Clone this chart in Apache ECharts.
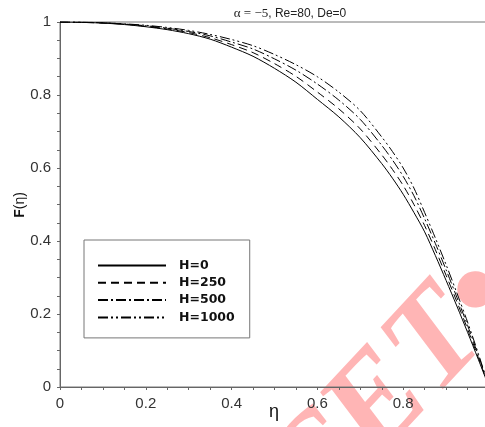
<!DOCTYPE html>
<html><head><meta charset="utf-8">
<script src="https://cdn.jsdelivr.net/npm/echarts@6/dist/echarts.min.js"></script>
<style>html,body{margin:0;padding:0;background:#fff}#c{width:485px;height:427px}</style>
</head><body><div id="c"></div>
<script>
const eta     = [0,0.05,0.1,0.15,0.2,0.25,0.3,0.35,0.4,0.45,0.5,0.55,0.6,0.65,0.7,0.75,0.775,0.8,0.825,0.85,0.875,0.9,0.925,0.95,0.975,1.0];
const F_H0    = [1.0,0.999,0.997,0.993,0.987,0.979,0.968,0.953,0.931,0.906,0.873,0.835,0.788,0.740,0.683,0.612,0.572,0.528,0.478,0.425,0.360,0.292,0.222,0.150,0.076,0];
const F_H250  = [1.0,0.999,0.997,0.994,0.988,0.981,0.971,0.957,0.938,0.916,0.886,0.851,0.808,0.762,0.707,0.636,0.596,0.552,0.500,0.442,0.376,0.306,0.234,0.159,0.081,0];
const F_H500  = [1.0,0.9993,0.9977,0.9944,0.9897,0.983,0.974,0.962,0.945,0.926,0.899,0.868,0.830,0.786,0.733,0.662,0.622,0.577,0.524,0.461,0.393,0.321,0.246,0.169,0.087,0];
const F_H1000 = [1.0,0.9995,0.998,0.995,0.991,0.985,0.977,0.966,0.952,0.935,0.911,0.883,0.850,0.808,0.757,0.685,0.645,0.600,0.545,0.478,0.408,0.335,0.258,0.178,0.092,0];
const seriesNames = ['H=0','H=250','H=500','H=1000'];
const xTicks = [0,0.2,0.4,0.6,0.8];
const yTicks = [0,0.2,0.4,0.6,0.8,1];

const chart = echarts.init(document.getElementById('c'), null, {renderer:'canvas'});
const pairs = arr => eta.map((e,i)=>[e,arr[i]]);
const dashes = ['solid',[8,5],[10,3,2,3],[10,3,2,3,2,3]];
const datas = [F_H0,F_H250,F_H500,F_H1000];

const axisCommon = {
  axisLine:{show:true,lineStyle:{color:'#666',width:1}},
  axisTick:{show:true,inside:false,length:3,lineStyle:{color:'#666'}},
  minorTick:{show:true,splitNumber:4,length:3,lineStyle:{color:'#666'}},
  splitLine:{show:false},
  axisLabel:{color:'#333',fontFamily:'Liberation Sans, Arial',fontSize:15}
};

chart.setOption({
  animation:false,
  backgroundColor:'#fff',
  grid:{left:60,top:22,right:-4,bottom:40,show:true,borderColor:'#777',borderWidth:1,backgroundColor:'transparent',containLabel:false,outerBoundsMode:'none'},
  xAxis:Object.assign({},axisCommon,{type:'value',min:0,max:1,interval:0.2,
    axisLabel:Object.assign({},axisCommon.axisLabel,{margin:9,showMaxLabel:false,
      formatter:v=>{const t=xTicks.find(k=>Math.abs(k-v)<1e-9);return t===undefined?'':String(t);}})}),
  yAxis:Object.assign({},axisCommon,{type:'value',min:0,max:1,interval:0.2,
    axisLabel:Object.assign({},axisCommon.axisLabel,{margin:9,
      formatter:v=>{const t=yTicks.find(k=>Math.abs(k-v)<1e-9);return t===undefined?'':String(t);}})}),
  legend:{
    orient:'vertical',left:84,top:240,
    data:seriesNames,
    itemWidth:68,itemHeight:14,itemGap:4.3,
    padding:[19,15,14,13],
    borderColor:'#777',borderWidth:1,
    itemStyle:{opacity:0,color:'transparent',borderWidth:0},
    textStyle:{fontFamily:'DejaVu Sans',fontWeight:'bold',fontSize:12.5,color:'#111',padding:[0,0,0,8]}
  },
  graphic:[
    {type:'text',z:-10,silent:true,x:393,y:392,rotation:47*Math.PI/180,
      style:{text:'CET•',font:'italic bold 134px "Liberation Serif"',fill:'#ffb5b5',align:'center',verticalAlign:'middle'}},
    {type:'text',x:290,y:14,silent:true,
      style:{text:'{a|α = −5}{b|, Re=80, De=0}',align:'center',verticalAlign:'middle',
        rich:{a:{fontFamily:'Liberation Serif',fontSize:13,fill:'#222'},b:{fontFamily:'Liberation Sans',fontSize:12,fill:'#222'}}}},
    {type:'text',x:20,y:205,rotation:Math.PI/2,silent:true,
      style:{text:'{f|F}{g|(η)}',align:'center',verticalAlign:'middle',
        rich:{f:{fontFamily:'Liberation Sans',fontWeight:'bold',fontSize:14,fill:'#111'},g:{fontFamily:'Liberation Sans',fontSize:14,fill:'#111'}}}},
    {type:'text',x:274,y:412,silent:true,
      style:{text:'η',font:'18px "Liberation Sans"',fill:'#111',align:'center',verticalAlign:'middle'}}
  ],
  series:datas.map((d,i)=>({
    name:seriesNames[i],type:'line',data:pairs(d),showSymbol:false,symbol:'none',smooth:0.3,
    z:3,
    lineStyle:{color:'#000',width:1,type:dashes[i],cap:'butt'},
    itemStyle:{color:'#000'}
  }))
});
</script></body></html>
